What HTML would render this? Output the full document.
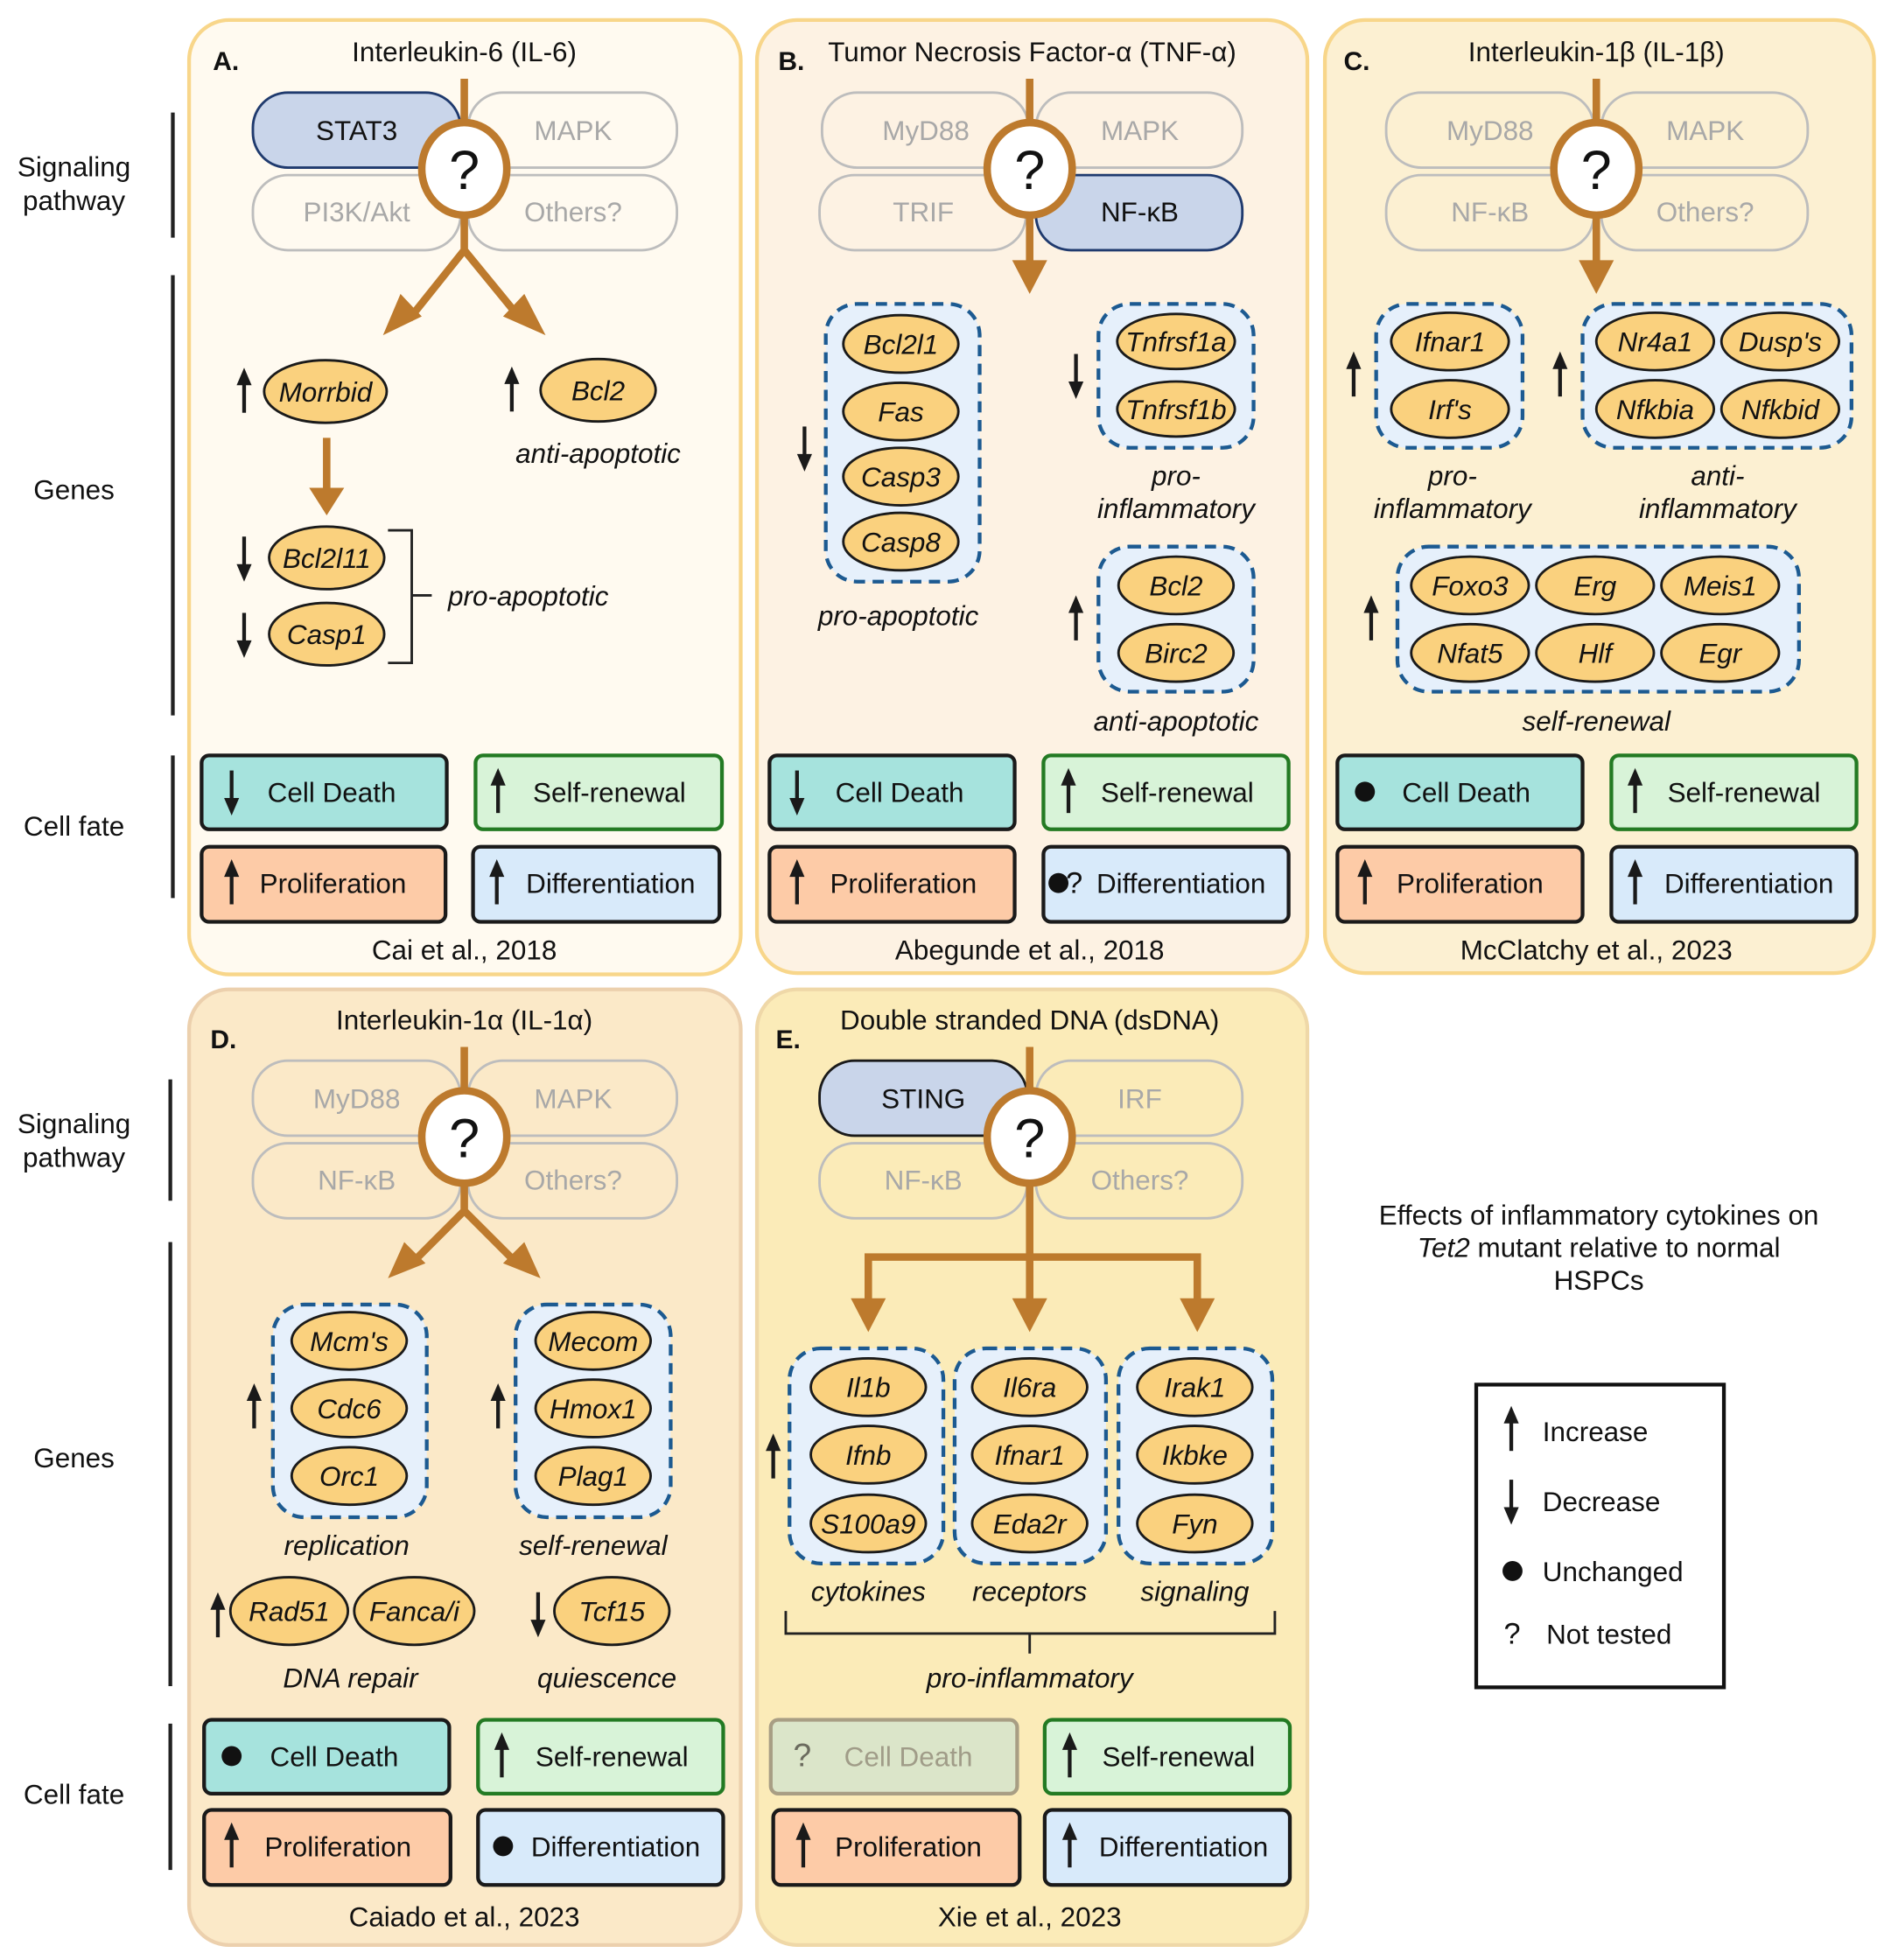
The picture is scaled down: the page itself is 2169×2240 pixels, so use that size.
<!DOCTYPE html>
<html><head><meta charset="utf-8"><style>
html,body{margin:0;padding:0;background:#fff}
svg{display:block}
text{font-family:"Liberation Sans",sans-serif;fill:#111}
.t{font-size:22px;text-anchor:middle}
.g{font-size:22px;font-style:italic;text-anchor:middle}
.pb{fill:none;stroke:#bdbdbd;stroke-width:2}
.pt{font-size:22px;text-anchor:middle;fill:#a8a8a8}
.el{fill:#fad17e;stroke:#1a1a1a;stroke-width:2}
.grp{fill:#e6f0fb;stroke:#1c5a91;stroke-width:3;stroke-dasharray:9 6}
.or{stroke:#bd7a2d;stroke-width:6;fill:none}
.cf{stroke:#1a1a1a;stroke-width:3}
.ax{stroke:#222;stroke-width:3}
</style></head><body>
<svg width="2169" height="2240" viewBox="0 0 1517 1567" xmlns="http://www.w3.org/2000/svg">
<defs>
<g id="u"><path d="M0 17V-6" stroke="#1a1a1a" stroke-width="3"/><path d="M-6-5L0-19L6-5Z" fill="#1a1a1a"/></g>
<g id="d"><path d="M0 -17V6" stroke="#1a1a1a" stroke-width="3"/><path d="M-6 5L0 19L6 5Z" fill="#1a1a1a"/></g>
<path id="ahd" d="M-14-12L0 8L14-12L0-6Z" fill="#bd7a2d"/>
</defs>

<!-- side labels -->
<text class="t" x="59" y="141">Signaling</text><text class="t" x="59" y="168">pathway</text>
<path class="ax" d="M138 90V190M138 220V572M138 604V718M136 863V960M136 993V1348M136 1378V1495"/>
<text class="t" x="59" y="399">Genes</text>
<text class="t" x="59" y="668">Cell fate</text>
<text class="t" x="59" y="906">Signaling</text><text class="t" x="59" y="933">pathway</text>
<text class="t" x="59" y="1173">Genes</text>
<text class="t" x="59" y="1442">Cell fate</text>

<!-- panels -->
<rect x="151" y="16" width="441" height="763" rx="32" fill="#fffaf0" stroke="#f8d68a" stroke-width="3"/>
<rect x="605" y="16" width="440" height="762" rx="32" fill="#fdf2e3" stroke="#f8d68a" stroke-width="3"/>
<rect x="1059" y="16" width="439" height="762" rx="32" fill="#fcf0d2" stroke="#f8d68a" stroke-width="3"/>
<rect x="151" y="791" width="441" height="764" rx="32" fill="#fbe9c8" stroke="#ecd0ad" stroke-width="3"/>
<rect x="605" y="791" width="440" height="764" rx="32" fill="#fbebb8" stroke="#efd8a8" stroke-width="3"/>

<!-- ===== A ===== -->
<text x="170" y="56" style="font-size:21px;font-weight:bold">A.</text>
<text class="t" x="371" y="49">Interleukin-6 (IL-6)</text>
<rect x="202" y="74" width="166" height="60" rx="28" fill="#c9d5ea" stroke="#1f3a6e" stroke-width="2"/><text class="t" x="285" y="112">STAT3</text>
<rect class="pb" x="374" y="74" width="167" height="60" rx="28"/><text class="pt" x="458" y="112">MAPK</text>
<rect class="pb" x="202" y="140" width="166" height="60" rx="28"/><text class="pt" x="285" y="177">PI3K/Akt</text>
<rect class="pb" x="374" y="140" width="167" height="60" rx="28"/><text class="pt" x="458" y="177">Others?</text>
<path class="or" d="M371 63V200L327 255M371 200L416 255"/>
<path d="M306 268L320 235L337 253Z M436 268L419 235L402 253Z" fill="#bd7a2d"/>
<ellipse cx="371" cy="135" rx="34" ry="37" fill="#fff" stroke="#bd7a2d" stroke-width="6"/>
<text x="371" y="151" style="font-size:44px;text-anchor:middle">?</text>
<use href="#u" x="195" y="313"/><ellipse class="el" cx="260" cy="313" rx="49" ry="25"/><text class="g" x="260" y="321">Morrbid</text>
<use href="#u" x="409" y="312"/><ellipse class="el" cx="478" cy="312" rx="46" ry="25"/><text class="g" x="478" y="320">Bcl2</text>
<text class="g" x="478" y="370">anti-apoptotic</text>
<path class="or" d="M261 350V392"/><path d="M247 390L261 412L275 390Z" fill="#bd7a2d"/>
<use href="#d" x="195" y="446"/><ellipse class="el" cx="261" cy="446" rx="46" ry="25"/><text class="g" x="261" y="454">Bcl2l11</text>
<use href="#d" x="195" y="507"/><ellipse class="el" cx="261" cy="507" rx="46" ry="25"/><text class="g" x="261" y="515">Casp1</text>
<path d="M310 424H329V530H310M329 476H345" fill="none" stroke="#222" stroke-width="2"/>
<text x="358" y="484" style="font-size:22px;font-style:italic">pro-apoptotic</text>
<rect class="cf" x="161" y="604" width="196" height="59" rx="6" fill="#a6e3dd"/><use href="#d" x="185" y="633"/><text class="t" x="265" y="641">Cell Death</text>
<rect x="380" y="604" width="197" height="59" rx="6" fill="#d8f3d8" stroke="#237a23" stroke-width="3"/><use href="#u" x="398" y="633"/><text class="t" x="487" y="641">Self-renewal</text>
<rect class="cf" x="161" y="677" width="195" height="60" rx="6" fill="#fdcba7"/><use href="#u" x="185" y="706"/><text class="t" x="266" y="714">Proliferation</text>
<rect class="cf" x="378" y="677" width="197" height="60" rx="6" fill="#d8eafa"/><use href="#u" x="397" y="706"/><text class="t" x="488" y="714">Differentiation</text>
<text class="t" x="371" y="767">Cai et al., 2018</text>

<!-- ===== B ===== -->
<text x="622" y="56" style="font-size:21px;font-weight:bold">B.</text>
<text class="t" x="825" y="49">Tumor Necrosis Factor-α (TNF-α)</text>
<rect class="pb" x="657" y="74" width="165" height="60" rx="28"/><text class="pt" x="740" y="112">MyD88</text>
<rect class="pb" x="828" y="74" width="165" height="60" rx="28"/><text class="pt" x="911" y="112">MAPK</text>
<rect class="pb" x="655" y="140" width="165" height="60" rx="28"/><text class="pt" x="738" y="177">TRIF</text>
<rect x="828" y="140" width="165" height="60" rx="28" fill="#c9d5ea" stroke="#1f3a6e" stroke-width="2"/><text class="t" x="911" y="177">NF-κB</text>
<path class="or" d="M823 63V212"/><path d="M809 208L823 235L837 208Z" fill="#bd7a2d"/>
<ellipse cx="823" cy="135" rx="34" ry="37" fill="#fff" stroke="#bd7a2d" stroke-width="6"/>
<text x="823" y="151" style="font-size:44px;text-anchor:middle">?</text>
<rect class="grp" x="660" y="243" width="123" height="222" rx="25"/>
<use href="#d" x="643" y="358"/>
<ellipse class="el" cx="720" cy="275" rx="46" ry="23"/><text class="g" x="720" y="283">Bcl2l1</text>
<ellipse class="el" cx="720" cy="329" rx="46" ry="23"/><text class="g" x="720" y="337">Fas</text>
<ellipse class="el" cx="720" cy="381" rx="46" ry="23"/><text class="g" x="720" y="389">Casp3</text>
<ellipse class="el" cx="720" cy="433" rx="46" ry="23"/><text class="g" x="720" y="441">Casp8</text>
<text class="g" x="718" y="500">pro-apoptotic</text>
<rect class="grp" x="878" y="243" width="124" height="115" rx="25"/>
<use href="#d" x="860" y="300"/>
<ellipse class="el" cx="940" cy="273" rx="47" ry="22"/><text class="g" x="940" y="281">Tnfrsf1a</text>
<ellipse class="el" cx="940" cy="327" rx="47" ry="22"/><text class="g" x="940" y="335">Tnfrsf1b</text>
<text class="g" x="940" y="388">pro-</text><text class="g" x="940" y="414">inflammatory</text>
<rect class="grp" x="878" y="437" width="124" height="116" rx="25"/>
<use href="#u" x="860" y="495"/>
<ellipse class="el" cx="940" cy="468" rx="46" ry="23"/><text class="g" x="940" y="476">Bcl2</text>
<ellipse class="el" cx="940" cy="522" rx="46" ry="23"/><text class="g" x="940" y="530">Birc2</text>
<text class="g" x="940" y="584">anti-apoptotic</text>
<rect class="cf" x="615" y="604" width="196" height="59" rx="6" fill="#a6e3dd"/><use href="#d" x="637" y="633"/><text class="t" x="719" y="641">Cell Death</text>
<rect x="834" y="604" width="196" height="59" rx="6" fill="#d8f3d8" stroke="#237a23" stroke-width="3"/><use href="#u" x="854" y="633"/><text class="t" x="941" y="641">Self-renewal</text>
<rect class="cf" x="615" y="677" width="196" height="60" rx="6" fill="#fdcba7"/><use href="#u" x="637" y="706"/><text class="t" x="722" y="714">Proliferation</text>
<rect class="cf" x="834" y="677" width="196" height="60" rx="6" fill="#d8eafa"/><circle cx="846" cy="706" r="8" fill="#111"/><text x="852" y="714" style="font-size:24px">?</text><text class="t" x="944" y="714">Differentiation</text>
<text class="t" x="823" y="767">Abegunde et al., 2018</text>

<!-- ===== C ===== -->
<text x="1074" y="56" style="font-size:21px;font-weight:bold">C.</text>
<text class="t" x="1276" y="49">Interleukin-1β (IL-1β)</text>
<rect class="pb" x="1108" y="74" width="166" height="60" rx="28"/><text class="pt" x="1191" y="112">MyD88</text>
<rect class="pb" x="1280" y="74" width="165" height="60" rx="28"/><text class="pt" x="1363" y="112">MAPK</text>
<rect class="pb" x="1108" y="140" width="166" height="60" rx="28"/><text class="pt" x="1191" y="177">NF-κB</text>
<rect class="pb" x="1280" y="140" width="165" height="60" rx="28"/><text class="pt" x="1363" y="177">Others?</text>
<path class="or" d="M1276 63V212"/><path d="M1262 208L1276 235L1290 208Z" fill="#bd7a2d"/>
<ellipse cx="1276" cy="135" rx="34" ry="37" fill="#fff" stroke="#bd7a2d" stroke-width="6"/>
<text x="1276" y="151" style="font-size:44px;text-anchor:middle">?</text>
<rect class="grp" x="1100" y="243" width="117" height="115" rx="25"/>
<use href="#u" x="1082" y="300"/>
<ellipse class="el" cx="1159" cy="273" rx="47" ry="23"/><text class="g" x="1159" y="281">Ifnar1</text>
<ellipse class="el" cx="1159" cy="327" rx="47" ry="23"/><text class="g" x="1159" y="335">Irf's</text>
<text class="g" x="1161" y="388">pro-</text><text class="g" x="1161" y="414">inflammatory</text>
<rect class="grp" x="1265" y="243" width="215" height="115" rx="25"/>
<use href="#u" x="1247" y="300"/>
<ellipse class="el" cx="1323" cy="273" rx="47" ry="23"/><text class="g" x="1323" y="281">Nr4a1</text>
<ellipse class="el" cx="1423" cy="273" rx="47" ry="23"/><text class="g" x="1423" y="281">Dusp's</text>
<ellipse class="el" cx="1323" cy="327" rx="47" ry="23"/><text class="g" x="1323" y="335">Nfkbia</text>
<ellipse class="el" cx="1423" cy="327" rx="47" ry="23"/><text class="g" x="1423" y="335">Nfkbid</text>
<text class="g" x="1373" y="388">anti-</text><text class="g" x="1373" y="414">inflammatory</text>
<rect class="grp" x="1117" y="437" width="321" height="116" rx="25"/>
<use href="#u" x="1096" y="495"/>
<ellipse class="el" cx="1175" cy="468" rx="47" ry="23"/><text class="g" x="1175" y="476">Foxo3</text>
<ellipse class="el" cx="1275" cy="468" rx="47" ry="23"/><text class="g" x="1275" y="476">Erg</text>
<ellipse class="el" cx="1375" cy="468" rx="47" ry="23"/><text class="g" x="1375" y="476">Meis1</text>
<ellipse class="el" cx="1175" cy="522" rx="47" ry="23"/><text class="g" x="1175" y="530">Nfat5</text>
<ellipse class="el" cx="1275" cy="522" rx="47" ry="23"/><text class="g" x="1275" y="530">Hlf</text>
<ellipse class="el" cx="1375" cy="522" rx="47" ry="23"/><text class="g" x="1375" y="530">Egr</text>
<text class="g" x="1276" y="584">self-renewal</text>
<rect class="cf" x="1069" y="604" width="196" height="59" rx="6" fill="#a6e3dd"/><circle cx="1091" cy="633" r="8" fill="#111"/><text class="t" x="1172" y="641">Cell Death</text>
<rect x="1288" y="604" width="196" height="59" rx="6" fill="#d8f3d8" stroke="#237a23" stroke-width="3"/><use href="#u" x="1307" y="633"/><text class="t" x="1394" y="641">Self-renewal</text>
<rect class="cf" x="1069" y="677" width="196" height="60" rx="6" fill="#fdcba7"/><use href="#u" x="1091" y="706"/><text class="t" x="1175" y="714">Proliferation</text>
<rect class="cf" x="1288" y="677" width="196" height="60" rx="6" fill="#d8eafa"/><use href="#u" x="1307" y="706"/><text class="t" x="1398" y="714">Differentiation</text>
<text class="t" x="1276" y="767">McClatchy et al., 2023</text>

<!-- ===== D ===== -->
<text x="168" y="838" style="font-size:21px;font-weight:bold">D.</text>
<text class="t" x="371" y="823">Interleukin-1α (IL-1α)</text>
<rect class="pb" x="202" y="848" width="166" height="60" rx="28"/><text class="pt" x="285" y="886">MyD88</text>
<rect class="pb" x="374" y="848" width="167" height="60" rx="28"/><text class="pt" x="458" y="886">MAPK</text>
<rect class="pb" x="202" y="914" width="166" height="60" rx="28"/><text class="pt" x="285" y="951">NF-κB</text>
<rect class="pb" x="374" y="914" width="167" height="60" rx="28"/><text class="pt" x="458" y="951">Others?</text>
<path class="or" d="M371 837V968L331 1008M371 968L411 1008"/>
<path d="M310 1022L323 993L340 1010Z M432 1022L419 993L402 1010Z" fill="#bd7a2d"/>
<ellipse cx="371" cy="909" rx="34" ry="37" fill="#fff" stroke="#bd7a2d" stroke-width="6"/>
<text x="371" y="925" style="font-size:44px;text-anchor:middle">?</text>
<rect class="grp" x="218" y="1043" width="123" height="170" rx="25"/>
<use href="#u" x="203" y="1125"/>
<ellipse class="el" cx="279" cy="1072" rx="46" ry="23"/><text class="g" x="279" y="1080">Mcm's</text>
<ellipse class="el" cx="279" cy="1126" rx="46" ry="23"/><text class="g" x="279" y="1134">Cdc6</text>
<ellipse class="el" cx="279" cy="1180" rx="46" ry="23"/><text class="g" x="279" y="1188">Orc1</text>
<text class="g" x="277" y="1243">replication</text>
<rect class="grp" x="412" y="1043" width="124" height="170" rx="25"/>
<use href="#u" x="398" y="1125"/>
<ellipse class="el" cx="474" cy="1072" rx="46" ry="23"/><text class="g" x="474" y="1080">Mecom</text>
<ellipse class="el" cx="474" cy="1126" rx="46" ry="23"/><text class="g" x="474" y="1134">Hmox1</text>
<ellipse class="el" cx="474" cy="1180" rx="46" ry="23"/><text class="g" x="474" y="1188">Plag1</text>
<text class="g" x="474" y="1243">self-renewal</text>
<use href="#u" x="174" y="1292"/>
<ellipse class="el" cx="231" cy="1288" rx="47" ry="27"/><text class="g" x="231" y="1296">Rad51</text>
<ellipse class="el" cx="331" cy="1288" rx="48" ry="27"/><text class="g" x="331" y="1296">Fanca/i</text>
<text class="g" x="280" y="1349">DNA repair</text>
<use href="#d" x="430" y="1290"/>
<ellipse class="el" cx="489" cy="1288" rx="46" ry="27"/><text class="g" x="489" y="1296">Tcf15</text>
<text class="g" x="485" y="1349">quiescence</text>
<rect class="cf" x="163" y="1375" width="196" height="59" rx="6" fill="#a6e3dd"/><circle cx="185" cy="1404" r="8" fill="#111"/><text class="t" x="267" y="1412">Cell Death</text>
<rect x="382" y="1375" width="196" height="59" rx="6" fill="#d8f3d8" stroke="#237a23" stroke-width="3"/><use href="#u" x="401" y="1404"/><text class="t" x="489" y="1412">Self-renewal</text>
<rect class="cf" x="163" y="1447" width="197" height="60" rx="6" fill="#fdcba7"/><use href="#u" x="185" y="1476"/><text class="t" x="270" y="1484">Proliferation</text>
<rect class="cf" x="382" y="1447" width="196" height="60" rx="6" fill="#d8eafa"/><circle cx="402" cy="1476" r="8" fill="#111"/><text class="t" x="492" y="1484">Differentiation</text>
<text class="t" x="371" y="1540">Caiado et al., 2023</text>

<!-- ===== E ===== -->
<text x="620" y="838" style="font-size:21px;font-weight:bold">E.</text>
<text class="t" x="823" y="823">Double stranded DNA (dsDNA)</text>
<rect x="655" y="848" width="166" height="60" rx="28" fill="#c9d5ea" stroke="#1a1a1a" stroke-width="2"/><text class="t" x="738" y="886">STING</text>
<rect class="pb" x="828" y="848" width="165" height="60" rx="28"/><text class="pt" x="911" y="886">IRF</text>
<rect class="pb" x="655" y="914" width="166" height="60" rx="28"/><text class="pt" x="738" y="951">NF-κB</text>
<rect class="pb" x="828" y="914" width="165" height="60" rx="28"/><text class="pt" x="911" y="951">Others?</text>
<path class="or" d="M823 837V1040M694 1040V1005H957V1040"/>
<path d="M680 1038L694 1065L708 1038Z M809 1038L823 1065L837 1038Z M943 1038L957 1065L971 1038Z" fill="#bd7a2d"/>
<ellipse cx="823" cy="909" rx="34" ry="37" fill="#fff" stroke="#bd7a2d" stroke-width="6"/>
<text x="823" y="925" style="font-size:44px;text-anchor:middle">?</text>
<rect class="grp" x="631" y="1078" width="123" height="172" rx="25"/>
<use href="#u" x="618" y="1165"/>
<ellipse class="el" cx="694" cy="1109" rx="46" ry="23"/><text class="g" x="694" y="1117">Il1b</text>
<ellipse class="el" cx="694" cy="1163" rx="46" ry="23"/><text class="g" x="694" y="1171">Ifnb</text>
<ellipse class="el" cx="694" cy="1218" rx="46" ry="23"/><text class="g" x="694" y="1226">S100a9</text>
<rect class="grp" x="763" y="1078" width="121" height="172" rx="25"/>
<ellipse class="el" cx="823" cy="1109" rx="46" ry="23"/><text class="g" x="823" y="1117">Il6ra</text>
<ellipse class="el" cx="823" cy="1163" rx="46" ry="23"/><text class="g" x="823" y="1171">Ifnar1</text>
<ellipse class="el" cx="823" cy="1218" rx="46" ry="23"/><text class="g" x="823" y="1226">Eda2r</text>
<rect class="grp" x="894" y="1078" width="123" height="172" rx="25"/>
<ellipse class="el" cx="955" cy="1109" rx="46" ry="23"/><text class="g" x="955" y="1117">Irak1</text>
<ellipse class="el" cx="955" cy="1163" rx="46" ry="23"/><text class="g" x="955" y="1171">Ikbke</text>
<ellipse class="el" cx="955" cy="1218" rx="46" ry="23"/><text class="g" x="955" y="1226">Fyn</text>
<text class="g" x="694" y="1280">cytokines</text><text class="g" x="823" y="1280">receptors</text><text class="g" x="955" y="1280">signaling</text>
<path d="M628 1288V1306H1019V1288M823 1306V1322" fill="none" stroke="#222" stroke-width="2"/>
<text class="g" x="823" y="1349">pro-inflammatory</text>
<rect x="616" y="1375" width="197" height="59" rx="6" fill="#dbe5c9" stroke="#a89e84" stroke-width="3"/><text x="634" y="1412" style="font-size:26px;fill:#6b6b5e">?</text><text class="t" x="726" y="1412" style="fill:#a09c88">Cell Death</text>
<rect x="835" y="1375" width="196" height="59" rx="6" fill="#d8f3d8" stroke="#237a23" stroke-width="3"/><use href="#u" x="855" y="1404"/><text class="t" x="942" y="1412">Self-renewal</text>
<rect class="cf" x="618" y="1447" width="197" height="60" rx="6" fill="#fdcba7"/><use href="#u" x="642" y="1476"/><text class="t" x="726" y="1484">Proliferation</text>
<rect class="cf" x="835" y="1447" width="196" height="60" rx="6" fill="#d8eafa"/><use href="#u" x="855" y="1476"/><text class="t" x="946" y="1484">Differentiation</text>
<text class="t" x="823" y="1540">Xie et al., 2023</text>

<!-- legend -->
<text class="t" x="1278" y="979">Effects of inflammatory cytokines on</text>
<text class="t" x="1278" y="1005"><tspan style="font-style:italic">Tet2</tspan> mutant relative to normal</text>
<text class="t" x="1278" y="1031">HSPCs</text>
<rect x="1180" y="1107" width="198" height="242" fill="#fff" stroke="#111" stroke-width="3"/>
<use href="#u" x="1208" y="1143"/><text x="1233" y="1152" style="font-size:22px">Increase</text>
<use href="#d" x="1208" y="1200"/><text x="1233" y="1208" style="font-size:22px">Decrease</text>
<circle cx="1209" cy="1256" r="8" fill="#111"/><text x="1233" y="1264" style="font-size:22px">Unchanged</text>
<text x="1202" y="1314" style="font-size:24px">?</text><text x="1236" y="1314" style="font-size:22px">Not tested</text>
</svg>
</body></html>
